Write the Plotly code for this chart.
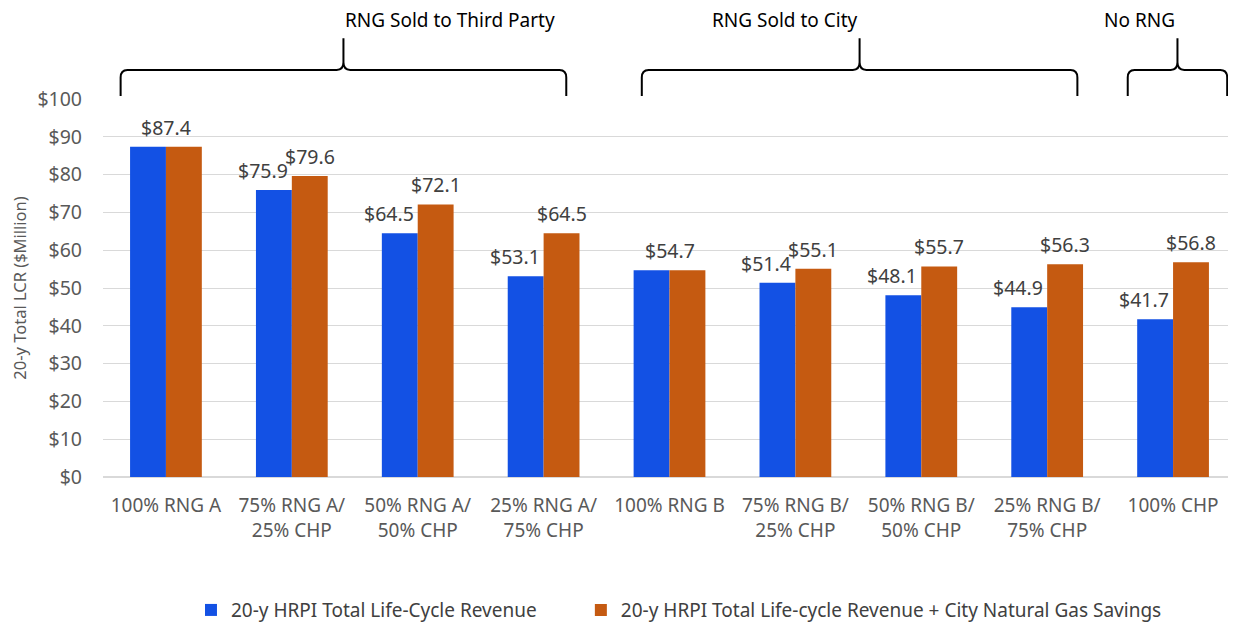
import plotly.graph_objects as go

# Chart data
categories = [
    "100% RNG A",
    "75% RNG A/<br>25% CHP",
    "50% RNG A/<br>50% CHP",
    "25% RNG A/<br>75% CHP",
    "100% RNG B",
    "75% RNG B/<br>25% CHP",
    "50% RNG B/<br>50% CHP",
    "25% RNG B/<br>75% CHP",
    "100% CHP",
]
revenue = [87.4, 75.9, 64.5, 53.1, 54.7, 51.4, 48.1, 44.9, 41.7]
revenue_plus_savings = [87.4, 79.6, 72.1, 64.5, 54.7, 55.1, 55.7, 56.3, 56.8]

series_names = [
    "20-y HRPI Total Life-Cycle Revenue",
    "20-y HRPI Total Life-cycle Revenue + City Natural Gas Savings",
]

# group brackets: label, start, end (in category index units)
groups = [
    ("RNG Sold to Third Party", -0.36, 3.18),
    ("RNG Sold to City", 3.78, 7.24),
    ("No RNG", 7.64, 8.43),
]

BLUE = "#1351E4"
ORANGE = "#C55A11"
FONT = "Noto Sans"
N = len(categories)

fig = go.Figure()

fig.add_trace(go.Bar(x=categories, y=revenue, name=series_names[0],
                     marker=dict(color=BLUE, line=dict(width=0)),
                     legend="legend", showlegend=True))
fig.add_trace(go.Bar(x=categories, y=revenue_plus_savings, name=series_names[1],
                     marker=dict(color=ORANGE, line=dict(width=0)),
                     legend="legend2", showlegend=True))

# ---------------- data labels ----------------
annotations = []
for cat, a, b in zip(categories, revenue, revenue_plus_savings):
    if a == b:
        labels = [(a, 0)]
    else:
        labels = [(a, -29), (b, 18)]
    for v, dx in labels:
        annotations.append(dict(
            x=cat, y=v, xref="x", yref="y", text=f"${v:.1f}",
            showarrow=False, yanchor="bottom", xshift=dx, yshift=4,
            font=dict(family=FONT, size=19.5, color="#404040"),
        ))


# ---------------- group brackets ----------------
def to_paper(u):
    return (u + 0.5) / N


shapes = []
y_end, y_bar, y_tip = 1.008, 1.077, 1.161
r = 0.006
ry = 0.02
for label, u0, u1 in groups:
    x0, x1 = to_paper(u0), to_paper(u1)
    xm = (x0 + x1) / 2
    path = (
        f"M {x0},{y_end} L {x0},{y_bar - ry} Q {x0},{y_bar} {x0 + r},{y_bar} "
        f"L {xm - r},{y_bar} Q {xm},{y_bar} {xm},{y_bar + ry} L {xm},{y_tip} "
        f"M {xm},{y_bar + ry} Q {xm},{y_bar} {xm + r},{y_bar} "
        f"L {x1 - r},{y_bar} Q {x1},{y_bar} {x1},{y_bar - ry} L {x1},{y_end}"
    )
    shapes.append(dict(type="path", path=path, xref="paper", yref="paper",
                       line=dict(color="black", width=2)))
    annotations.append(dict(
        x=xm, y=1.21, xref="paper", yref="paper", text=label,
        showarrow=False, yanchor="middle",
        font=dict(family=FONT, size=19, color="black"),
    ))

legend_style = dict(
    orientation="h",
    xanchor="left",
    xref="container",
    y=0.021,
    yanchor="middle",
    yref="container",
    font=dict(size=19, color="#404040"),
)

# ---------------- layout ----------------
# the page adds an 8px body margin, so the figure is 8px smaller
fig.update_layout(
    width=1228,
    height=615,
    showlegend=True,
    barmode="group",
    bargap=0.43,
    bargroupgap=0,
    plot_bgcolor="white",
    paper_bgcolor="white",
    font=dict(family=FONT, color="#595959"),
    margin=dict(l=95, r=0, t=91, b=146),
    xaxis=dict(
        tickfont=dict(size=19, color="#595959"),
        showgrid=False,
        ticks="",
        ticklabelstandoff=15,
        automargin=False,
    ),
    yaxis=dict(
        range=[0, 100],
        dtick=10,
        tickprefix="$",
        tickfont=dict(size=19.5, color="#595959"),
        gridcolor="#D9D9D9",
        zeroline=True,
        zerolinecolor="#D9D9D9",
        automargin=False,
        ticklabelstandoff=20,
        title=dict(text="20-y Total LCR ($Million)",
                   font=dict(size=16.5, color="#595959"), standoff=10),
    ),
    legend=dict(legend_style, x=0.149),
    legend2=dict(legend_style, x=0.4665),
    annotations=annotations,
    shapes=shapes,
)

fig.write_html("out.html")
